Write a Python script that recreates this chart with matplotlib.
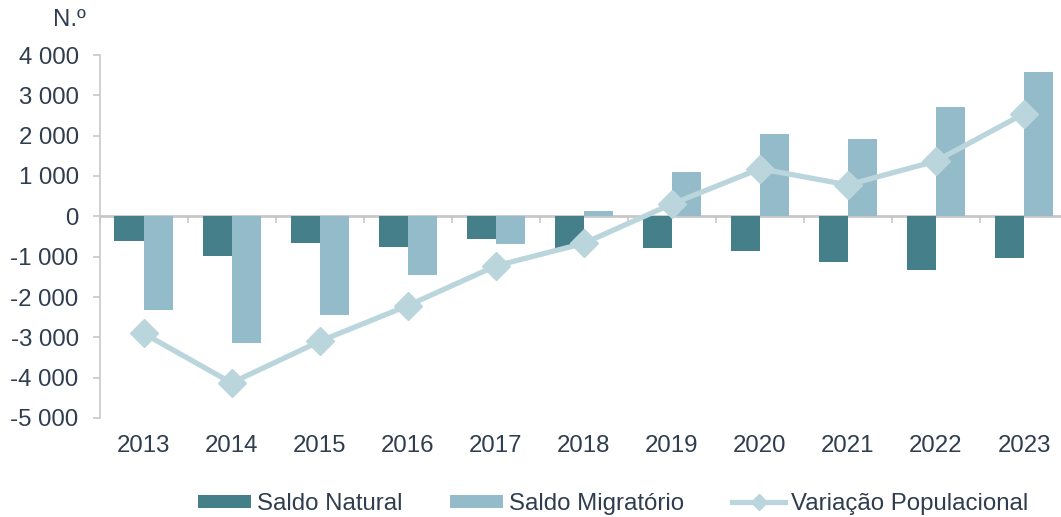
import matplotlib
matplotlib.use("Agg")
import matplotlib.pyplot as plt
import matplotlib.ticker as mticker
import numpy as np

plt.rcParams['font.family'] = ['Liberation Sans', 'DejaVu Sans']

anos = ["2013", "2014", "2015", "2016", "2017", "2018", "2019", "2020", "2021", "2022", "2023"]
saldo_natural = [-600, -990, -660, -755, -550, -790, -790, -855, -1135, -1340, -1045]
saldo_migratorio = [-2310, -3145, -2440, -1450, -680, 125, 1090, 2035, 1915, 2710, 3590]
variacao = [-2900, -4130, -3100, -2215, -1230, -670, 305, 1180, 780, 1370, 2545]

c_nat = "#457f8a"
c_mig = "#94bbc9"
c_var = "#bad6dc"
c_txt = "#2f3d4f"
c_axis = "#c8c8c8"
fs = 17.3

fig = plt.figure(figsize=(10.61, 5.17), dpi=100)
ax = fig.add_axes([99.5 / 1061, 99 / 517, 968.5 / 1061, 363 / 517])

x = np.arange(len(anos))
w = 0.33
b1 = ax.bar(x - w / 2, saldo_natural, w, color=c_nat, label="Saldo Natural", zorder=2)
b2 = ax.bar(x + w / 2, saldo_migratorio, w, color=c_mig, label="Saldo Migratório", zorder=2)
l1, = ax.plot(x, variacao, color=c_var, lw=3.8, marker="D", ms=14, label="Variação Populacional", zorder=4)

ax.set_xlim(-0.5, len(anos) - 0.5)
ax.set_ylim(-5000, 4000)
ax.yaxis.set_major_locator(mticker.MultipleLocator(1000))
ax.yaxis.set_major_formatter(mticker.FuncFormatter(lambda v, p: f"{int(v):,}".replace(",", " ")))

for s in ["top", "right", "bottom"]:
    ax.spines[s].set_visible(False)
ax.spines["left"].set_color(c_axis)
ax.spines["left"].set_linewidth(1.2)

ax.set_xticks(x)
ax.set_xticklabels(anos)
ax.tick_params(axis="x", length=0, pad=12, labelsize=fs, labelcolor=c_txt)
ax.tick_params(axis="y", length=5, width=1.2, color=c_axis, pad=10, labelsize=fs, labelcolor=c_txt)

# eixo horizontal no zero com marcas entre categorias
sec = ax.secondary_xaxis(0, transform=ax.transData)
sec.set_xticks(np.arange(len(anos) + 1) - 0.5)
sec.set_xticklabels([])
sec.tick_params(axis="x", length=5, width=1.2, color=c_axis)
sec.spines["bottom"].set_color(c_axis)
sec.spines["bottom"].set_linewidth(2)

fig.text(86 / 1061, 0.962, "N.º", ha="right", va="center", fontsize=fs, color=c_txt)

leg = fig.legend(handles=[b1, b2, l1], loc="center", bbox_to_anchor=(0.578, 0.025), ncol=3,
                 frameon=False, fontsize=fs, handlelength=2.2, handleheight=0.5, handletextpad=0.25,
                 columnspacing=2.0, labelcolor=c_txt, markerscale=0.55)

fig.savefig("out.png", dpi=100)
